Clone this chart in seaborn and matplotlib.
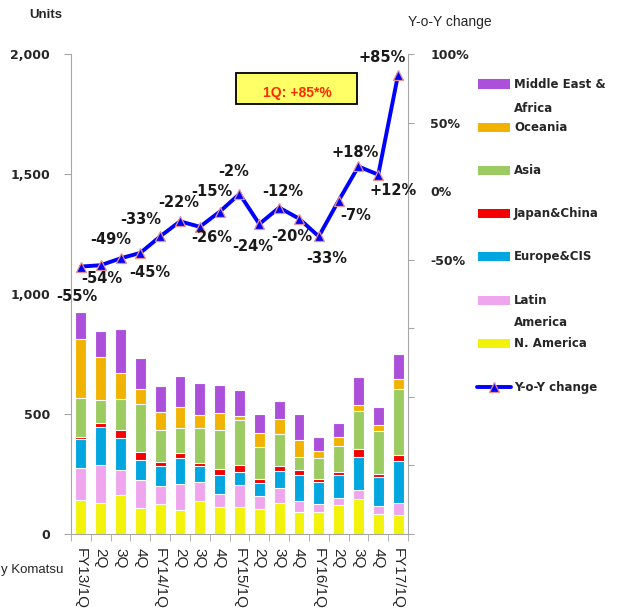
import numpy as np
import pandas as pd
import matplotlib
matplotlib.use('Agg')
import matplotlib.pyplot as plt
import seaborn as sns
from matplotlib.patches import Rectangle
from matplotlib.lines import Line2D

# quarterly demand by region (units)
quarters = ['FY13/1Q', '2Q', '3Q', '4Q', 'FY14/1Q', '2Q', '3Q', '4Q',
            'FY15/1Q', '2Q', '3Q', '4Q', 'FY16/1Q', '2Q', '3Q', '4Q', 'FY17/1Q']

n_america = [142, 128, 164, 108, 126, 100, 136, 114, 111, 103, 128, 90, 90, 119, 147, 85, 78]
latin_america = [132, 159, 103, 115, 74, 107, 79, 51, 93, 54, 64, 49, 35, 31, 36, 32, 50]
europe_cis = [121, 159, 133, 85, 83, 111, 67, 80, 54, 55, 72, 107, 93, 96, 136, 121, 176]
japan_china = [10, 15, 32, 34, 18, 18, 15, 26, 31, 19, 19, 19, 10, 14, 34, 13, 24]
asia = [160, 97, 129, 200, 134, 106, 145, 164, 187, 130, 135, 57, 87, 107, 161, 178, 276]
oceania = [246, 178, 111, 62, 75, 87, 54, 68, 17, 58, 61, 68, 32, 36, 22, 24, 43]
middle_east_africa = [114, 108, 183, 128, 105, 128, 133, 119, 108, 81, 74, 109, 57, 61, 120, 78, 103]

yoy_change = [-55, -54, -49, -45, -33, -22, -26, -15, -2, -24, -12, -20, -33, -7, 18, 12, 85]

# bottom -> top stacking order
regions = [
    ('N. America', n_america, '#F2F20A'),
    ('Latin America', latin_america, '#F0A6EE'),
    ('Europe&CIS', europe_cis, '#00A6E0'),
    ('Japan&China', japan_china, '#F50000'),
    ('Asia', asia, '#9CCB62'),
    ('Oceania', oceania, '#F2B300'),
    ('Middle East & Africa', middle_east_africa, '#AC50DC'),
]

# label offsets in pixels (dx right, dy down)
label_offsets = [(-4, 30), (1, 13), (-10, -19), (9, 20), (-19, -17), (-1, -19), (12, 11),
                 (-8, -20), (-6, -22), (-7, 22), (4, -16), (-7, 18), (8, 22), (17, 15),
                 (-3, -14), (15, 16), (-16, -17)]

sns.set_style('white')
plt.rcParams['font.family'] = ['DejaVu Sans']

W, H = 617, 613
GRAY = '#A6A6A6'

pos = np.arange(len(quarters))
df = pd.DataFrame({'pos': pos})
cum = np.cumsum(np.array([r[1] for r in regions]), axis=0)
for i, (name, _, color) in enumerate(regions):
    df[name] = cum[i]

fig = plt.figure(figsize=(W / 100, H / 100), dpi=100)
ax = fig.add_axes([71 / W, 1 - 534 / H, 337 / W, 480 / H])

# stacked bars: draw cumulative totals from top layer down
for i in reversed(range(len(regions))):
    name, _, color = regions[i]
    sns.barplot(data=df, x='pos', y=name, color=color, saturation=1, width=0.55,
                edgecolor='white', linewidth=0.8, errorbar=None, ax=ax)

ax.set_ylim(0, 2000)
ax.set_yticks([0, 500, 1000, 1500, 2000])
ax.set_yticklabels(['0', '500', '1,000', '1,500', '2,000'], fontweight='bold', fontsize=9)
ax.set_xlabel('')
ax.set_ylabel('')

# YoY line on the right axis
ax2 = ax.twinx()
sns.lineplot(x=pos, y=yoy_change, ax=ax2, color='#0000FF', lw=2.8, marker='^',
             markersize=7.5, markerfacecolor='#0000FF', markeredgecolor='#E89090',
             markeredgewidth=0.9)
ax2.set_ylim(-250, 100)
ax2.set_yticks(np.arange(-250, 101, 50))
ax2.set_yticklabels([f'{v}%' if v >= -50 else '' for v in np.arange(-250, 101, 50)],
                    fontweight='bold', fontsize=9)
ax2.set_ylabel('')

for i, v in enumerate(yoy_change):
    dx, dy = label_offsets[i]
    ax2.annotate(f'{v:+d}%' if v > 0 else f'{v}%', xy=(i, v), xytext=(dx * 0.72, -dy * 0.72),
                 textcoords='offset points', ha='center', va='center', fontsize=10.5,
                 fontweight='bold', color='#1A1A1A', annotation_clip=False)

ax.set_xlim(-0.5, len(quarters) - 0.5)
ax.set_xticks(pos)
ax.set_xticklabels(quarters, rotation=-90, fontsize=11, family='Liberation Sans')
ax.set_xticks(np.arange(-0.5, len(quarters), 1), minor=True)
ax.tick_params(axis='x', which='major', length=0, pad=10)
ax.tick_params(axis='x', which='minor', length=5, color=GRAY, direction='out', bottom=True)
ax.tick_params(axis='y', length=5, color=GRAY, direction='out', pad=10, left=True)
ax2.tick_params(axis='y', length=4, color=GRAY, direction='out', pad=12, right=True)

for a in (ax, ax2):
    for s in a.spines.values():
        s.set_visible(False)
ax.spines['left'].set_visible(True)
ax.spines['left'].set_color(GRAY)
ax.spines['bottom'].set_visible(True)
ax.spines['bottom'].set_color(GRAY)
ax2.spines['right'].set_visible(True)
ax2.spines['right'].set_color(GRAY)

# titles and source
fig.text(46 / W, 1 - 15 / H, 'Units', ha='center', va='center', fontsize=9.5,
         fontweight='bold', family='Liberation Sans')
fig.text(450 / W, 1 - 22 / H, 'Y-o-Y change', ha='center', va='center', fontsize=10,
         family='Liberation Sans')
fig.text(63 / W, 1 - 570 / H, 'y Komatsu', ha='right', va='center', fontsize=9.5,
         family='Liberation Sans')

# callout box
fig.add_artist(Rectangle((236 / W, 1 - 104 / H), 121 / W, 31 / H, transform=fig.transFigure,
                         fc='#FFFF66', ec='black', lw=1.3))
fig.text(297 / W, 1 - 93 / H, '1Q: +85*%', ha='center', va='center', fontsize=10,
         fontweight='bold', color='#FF2A00', family='Liberation Sans')

# legend drawn by hand (Excel-style layout)
legend_rows = [('Middle East &', '#AC50DC'), ('Oceania', '#F2B300'), ('Asia', '#9CCB62'),
               ('Japan&China', '#F50000'), ('Europe&CIS', '#00A6E0'), ('Latin', '#F0A6EE'),
               ('N. America', '#F2F20A')]
for k, (lab, color) in enumerate(legend_rows):
    yc = 84 + 43.2 * k
    fig.add_artist(Rectangle((478 / W, 1 - (yc + 4.5) / H), 32 / W, 9 / H,
                             transform=fig.transFigure, fc=color, ec='none'))
    fig.text(514 / W, 1 - yc / H, lab, ha='left', va='center', fontsize=8.5, fontweight='bold')
fig.text(514 / W, 1 - 108 / H, 'Africa', ha='left', va='center', fontsize=8.5, fontweight='bold')
fig.text(514 / W, 1 - 323 / H, 'America', ha='left', va='center', fontsize=8.5, fontweight='bold')

yl = 1 - 387 / H
fig.add_artist(Line2D([477 / W, 511 / W], [yl, yl], transform=fig.transFigure,
                      color='#0000FF', lw=2.8))
fig.add_artist(Line2D([494 / W], [yl], transform=fig.transFigure, marker='^', markersize=7,
                      color='#0000FF', markeredgecolor='#E89090', markeredgewidth=0.9))
fig.text(514 / W, yl, 'Y-o-Y change', ha='left', va='center', fontsize=8.5, fontweight='bold')

fig.savefig('out.png', dpi=100)
